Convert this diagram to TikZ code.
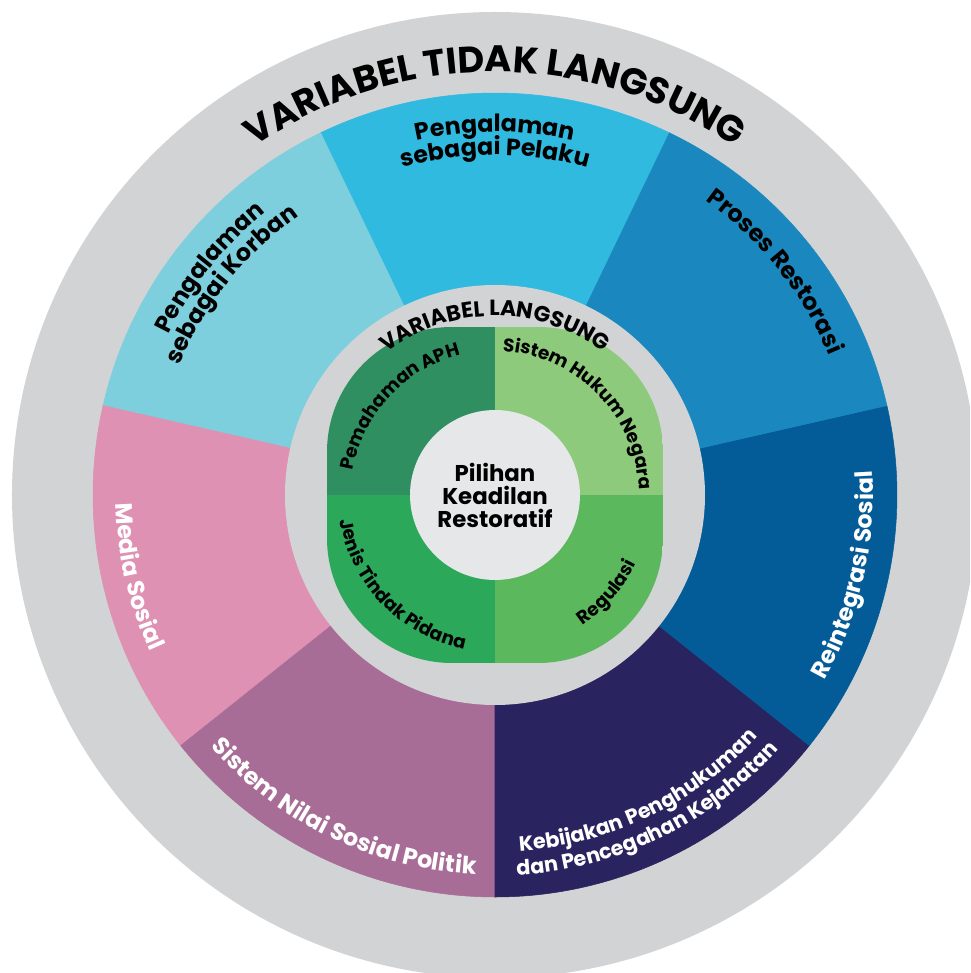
\documentclass[tikz,border=0pt]{standalone}
\usepackage{fontspec}
\setmainfont{Poppins}
\usetikzlibrary{decorations.text}

% Colours
\definecolor{ringgray}{HTML}{D1D3D4}
\definecolor{hubgray}{HTML}{E6E7E8}
\definecolor{pelaku}{HTML}{31BADF}
\definecolor{korban}{HTML}{7ECFDD}
\definecolor{media}{HTML}{DE91B2}
\definecolor{nilai}{HTML}{A86D97}
\definecolor{kebijakan}{HTML}{29235F}
\definecolor{reintegrasi}{HTML}{035B97}
\definecolor{proses}{HTML}{1A88BE}
\definecolor{aph}{HTML}{2F8F61}
\definecolor{hukum}{HTML}{8DCA7B}
\definecolor{regulasi}{HTML}{5CB85D}
\definecolor{pidana}{HTML}{2CA85A}

% Fonts for the labels
\newcommand{\titlefont}{\fontsize{21}{25}\selectfont\bfseries}
\newcommand{\subtitlefont}{\fontsize{12.5}{15}\selectfont\bfseries}
\newcommand{\outerfont}{\fontsize{13.5}{16}\selectfont\bfseries}
\newcommand{\outerwhite}{\outerfont\color{white}}
\newcommand{\smallwhite}{\fontsize{11.8}{14}\selectfont\bfseries\color{white}}
\newcommand{\innerfont}{\fontsize{10.5}{12}\selectfont\bfseries}

% text on an arc: radius, start angle, end angle, font, text
\newcommand{\ringtext}[5]{%
  \path[decorate,decoration={text along path,text align=center,text={|#4|#5}}]
    (#2:#1) arc[start angle=#2,end angle=#3,radius=#1];}

\begin{document}
\begin{tikzpicture}[scale=0.02]
    \useasboundingbox (-495,-478) rectangle (475,495);
    \fill[white] (-495,-478) rectangle (475,495);
    \clip (-495,-478) rectangle (475,495);

    % Outer ring
    \fill[ringgray] (0,0) circle (483);

    % Sectors
    \foreach \c [count=\i from 0] in {pelaku,korban,media,nilai,kebijakan,reintegrasi,proses}
        \filldraw[fill=\c,draw=\c,line width=0.3pt] (0,0) -- (64.2857+\i*51.4286:402)
            arc[start angle=64.2857+\i*51.4286,delta angle=51.4286,radius=402] -- cycle;

    % Inner ring
    \fill[ringgray] (0,0) circle (210);

    % Quarters
    \begin{scope}
        \clip[rounded corners=2.5cm] (-168,-168) rectangle (168,168);
        \fill[aph] (-168,0) rectangle (0,168);
        \fill[hukum] (0,0) rectangle (168,168);
        \fill[regulasi] (0,-168) rectangle (168,0);
        \fill[pidana] (-168,-168) rectangle (0,0);
    \end{scope}

    % Centre
    \node[circle,fill=hubgray,minimum size=3.4cm,inner sep=0pt,align=center,
          font=\fontsize{13}{13.1}\selectfont\bfseries] (pilihan) at (0,0)
        {Pilihan\\Keadilan\\Restoratif};

    % Ring titles
    \ringtext{423}{170}{10}{\titlefont}{VARIABEL TIDAK LANGSUNG}
    \ringtext{179}{160}{20}{\subtitlefont}{VARIABEL LANGSUNG}

    % Outer labels
    \ringtext{363}{150}{30}{\outerfont}{Pengalaman}
    \ringtext{340}{150}{30}{\outerfont}{sebagai Pelaku}
    \ringtext{364}{201.43}{81.43}{\outerfont}{Pengalaman}
    \ringtext{341}{201.43}{81.43}{\outerfont}{sebagai Korban}
    \ringtext{362}{98.57}{-21.43}{\outerfont}{Proses Restorasi}
    \ringtext{378}{-72.86}{47.14}{\outerwhite}{Reintegrasi Sosial}
    \ringtext{357}{235.71}{355.71}{\smallwhite}{Kebijakan Penghukuman}
    \ringtext{381}{235.71}{355.71}{\smallwhite}{dan Pencegahan Kejahatan}
    \ringtext{380}{184.29}{304.29}{\outerwhite}{Sistem Nilai Sosial Politik}
    \ringtext{379}{132.86}{252.86}{\outerwhite}{Media Sosial}

    % Inner labels
    \ringtext{144}{197}{77}{\innerfont}{Pemahaman APH}
    \ringtext{144}{104.5}{-15.5}{\innerfont}{Sistem Hukum Negara}
    \ringtext{157}{164}{284}{\innerfont}{Jenis Tindak Pidana}
    \ringtext{157}{-101}{19}{\innerfont}{Regulasi}
\end{tikzpicture}
\end{document}
